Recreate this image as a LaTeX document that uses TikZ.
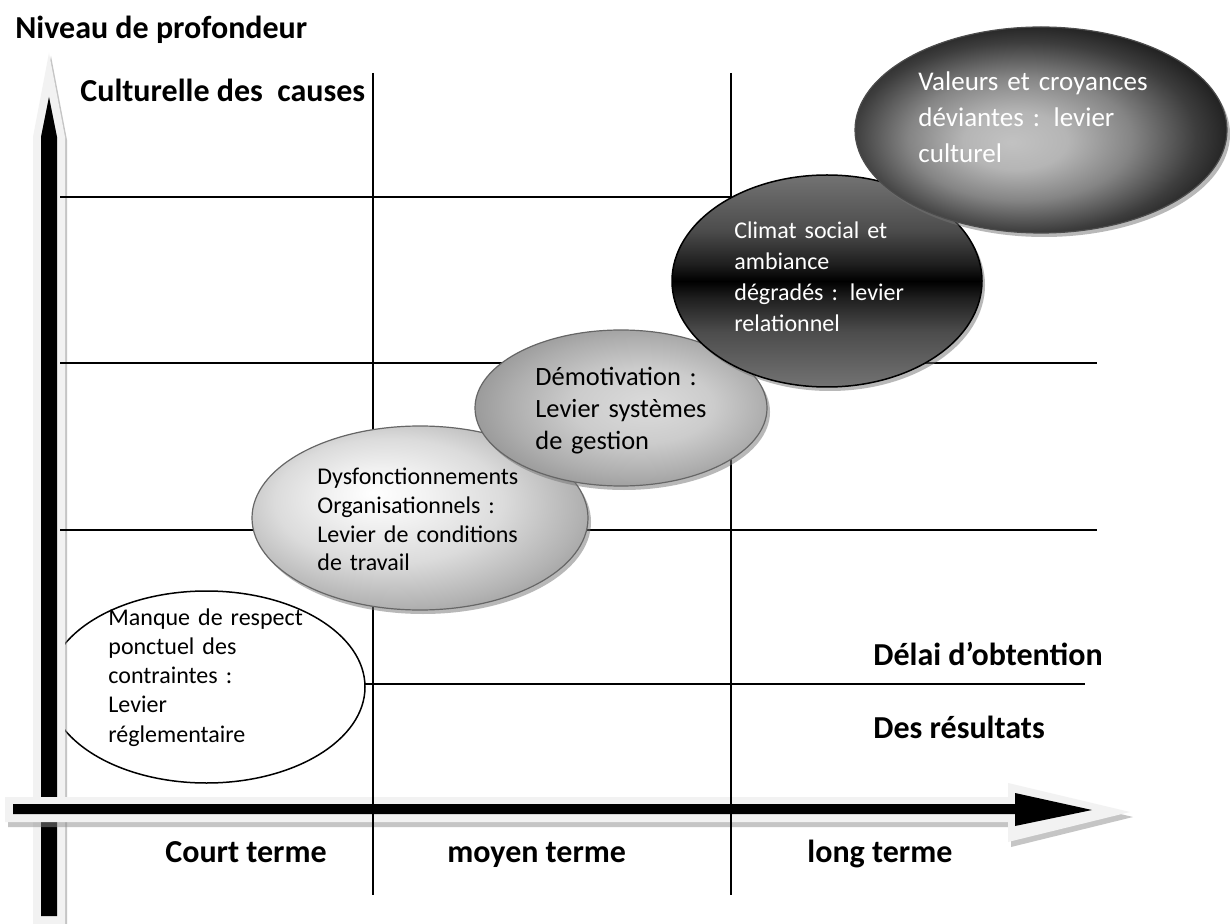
\documentclass[tikz,border=0pt]{standalone}
\usepackage{fontspec}
\setmainfont{Carlito}
\usetikzlibrary{shapes.geometric,shadows}
\pgfdeclareradialshading{dysfsh}{\pgfpoint{-7bp}{7bp}}{color(0bp)=(white); color(7bp)=(black!5); color(17bp)=(black!14); color(27bp)=(black!30); color(35bp)=(black!45); color(50bp)=(black!48)}
\pgfdeclareradialshading{demsh}{\pgfpoint{5bp}{1bp}}{color(0bp)=(black!14); color(12bp)=(black!20); color(22bp)=(black!32); color(30bp)=(black!43); color(35bp)=(black!50); color(50bp)=(black!52)}
\pgfdeclareverticalshading{climsh}{100bp}{color(0bp)=(black!52); color(25bp)=(black!55); color(38bp)=(black!70); color(46bp)=(black!88); color(50bp)=(black); color(54bp)=(black!88); color(62bp)=(black!70); color(75bp)=(black!55); color(100bp)=(black!52)}
\pgfdeclareradialshading{valsh}{\pgfpoint{-4bp}{-3bp}}{color(0bp)=(black!24); color(7bp)=(black!29); color(15bp)=(black!48); color(23bp)=(black!76); color(30bp)=(black!94); color(35bp)=(black); color(50bp)=(black)}
\begin{document}
\begin{tikzpicture}[x=0.5pt,y=-0.5pt,
  gridline/.style={line width=1pt,black},
  biglabel/.style={font=\bfseries\fontsize{16}{19}\selectfont,anchor=base west,inner sep=0},
  elltext/.style={anchor=base west,inner sep=0,text width=150pt},
  oval/.style={ellipse,inner sep=0},
  ovalshadow/.style={drop shadow={shadow xshift=1.5pt,shadow yshift=-2pt,opacity=0.5,fill=black!55}},
  arrowlight/.style={fill=black!5},
  arrowshadow/.style={fill=black!45,opacity=0.5}]
\useasboundingbox (0,0) rectangle (1230,924);
\fill[white] (0,0) rectangle (1230,924);

% ellipse 1 (white)
\node[oval,draw=black,line width=0.75pt,fill=white,minimum width=158.5pt,minimum height=96pt] (manque) at (206.5,687) {};

% vertical arrow
\fill[arrowshadow] (35,927) -- (35,140) -- (51,56) -- (67,140) -- (67,927) -- cycle;
\fill[arrowlight] (33,924) -- (33,137) -- (49,53) -- (65,137) -- (65,924) -- cycle;
\fill[black] (41,916) -- (41,137) -- (49,97) -- (57,137) -- (57,916) -- cycle;

% horizontal arrow
\fill[arrowshadow] (8,802) -- (1011,802) -- (1011,788) -- (1133,817) -- (1011,847) -- (1011,827) -- (8,827) -- cycle;
\fill[arrowlight] (5,797) -- (1008,797) -- (1008,783) -- (1130,812) -- (1008,842) -- (1008,822) -- (5,822) -- cycle;
\fill[black] (13,804) -- (1015,804) -- (1015,793) -- (1092,810) -- (1015,826) -- (1015,814) -- (13,814) -- cycle;

% grid
\coordinate (v1t) at (373,73); \coordinate (v1b) at (373,895);
\coordinate (v2t) at (731,73); \coordinate (v2b) at (731,895);
\draw[gridline] (v1t) -- (v1b);
\draw[gridline] (v2t) -- (v2b);
\coordinate (h1a) at (60,197); \coordinate (h1b) at (731,197);
\coordinate (h2a) at (60,363); \coordinate (h2b) at (1097,363);
\coordinate (h3a) at (60,530); \coordinate (h3b) at (1097,530);
\coordinate (h4a) at (365,684); \coordinate (h4b) at (1085,684);
\draw[gridline] (h1a) -- (h1b);
\draw[gridline] (h2a) -- (h2b);
\draw[gridline] (h3a) -- (h3b);
\draw[gridline] (h4a) -- (h4b);

% shaded ellipses
\node[oval,ovalshadow,draw=black!60,line width=0.6pt,shading=dysfsh,minimum width=168pt,minimum height=92pt] (dysf) at (420,518) {};
\node[oval,ovalshadow,draw=black!60,line width=0.6pt,shading=demsh,minimum width=146pt,minimum height=78pt] (demot) at (621,408) {};
\node[oval,ovalshadow,draw=black,line width=0.75pt,shading=climsh,minimum width=155pt,minimum height=106pt] (climat) at (827,281) {};
\node[oval,ovalshadow,draw=black!70,line width=0.6pt,shading=valsh,minimum width=186pt,minimum height=103pt] (valeurs) at (1041,130) {};

% ellipse texts
\node[elltext,font=\fontsize{12}{14.65}\selectfont] (tmanque) at (108,625) {\raggedright Manque de respect\\ponctuel des\\contraintes :\\Levier\\réglementaire};
\node[elltext,font=\fontsize{12}{14.5}\selectfont] (tdysf) at (317,484) {\raggedright Dysfonctionnements\\Organisationnels :\\Levier de conditions\\de travail};
\node[elltext,font=\fontsize{13.2}{16}\selectfont] (tdemot) at (535,386) {\raggedright Démotivation :\\Levier systèmes\\de gestion};
\node[elltext,font=\fontsize{12}{15.5}\selectfont,text=white] (tclimat) at (734,239) {\raggedright Climat social et\\ambiance\\dégradés : levier\\relationnel};
\node[elltext,font=\fontsize{13.5}{18}\selectfont,text=white] (tvaleurs) at (918,91) {\raggedright Valeurs et croyances\\déviantes : levier\\culturel};

% axis labels
\node[biglabel] (niveau) at (15,39) {Niveau de profondeur};
\node[biglabel] (culturelle) at (80,102) {Culturelle des\ \ causes};
\node[biglabel] (delai) at (873,665) {Délai d’obtention};
\node[biglabel] (resultats) at (873,738) {Des résultats};
\node[biglabel] (court) at (165,862) {Court terme};
\node[biglabel] (moyen) at (447,862) {moyen terme};
\node[biglabel] (long) at (807,862) {long terme};
\end{tikzpicture}
\end{document}
